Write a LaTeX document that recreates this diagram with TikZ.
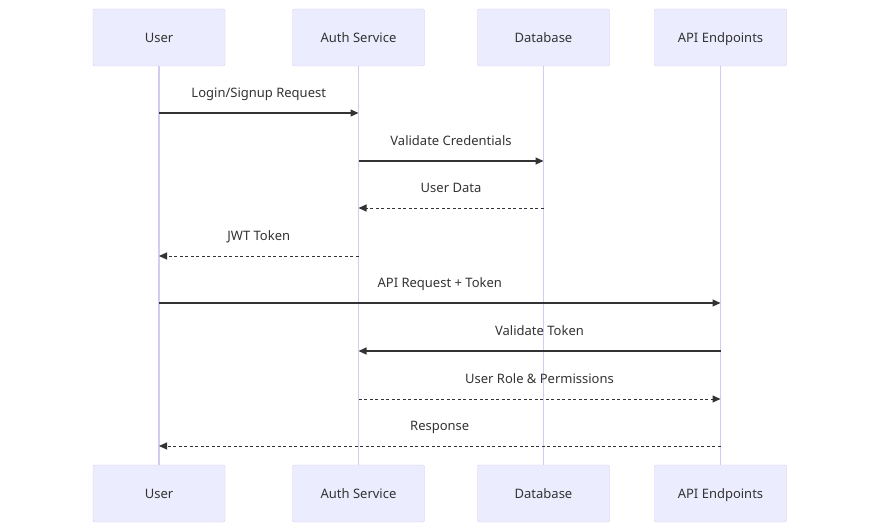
\documentclass[tikz,border=0pt]{standalone}
\usepackage{fontspec}
\setmainfont{Noto Sans}
\usetikzlibrary{arrows.meta,positioning,calc}
\definecolor{actfill}{HTML}{ECECFF}
\definecolor{actline}{HTML}{D3CBF3}
\definecolor{txt}{HTML}{333333}

\begin{document}
\begin{tikzpicture}[x=1pt,y=-1pt,
  actor/.style={draw=actline, fill=actfill, rounded corners=2pt, minimum width=132pt, minimum height=57pt, inner sep=0pt, text=txt, text height=10pt, text depth=0.5pt, font=\fontsize{13}{15}\selectfont},
  life/.style={draw=actline, line width=1.5pt},
  msg/.style={draw=txt, line width=1.1pt, -{Triangle[length=8pt,width=7pt]}},
  reply/.style={msg, line width=1pt, dash pattern=on 3pt off 2.5pt},
  lbl/.style={midway, yshift=20pt, text=txt, text height=10pt, text depth=0.5pt, font=\fontsize{13}{15}\selectfont}]
\useasboundingbox (0,0) rectangle (880,532);
% actors, top and bottom
\node[actor] (user)  at (159,37.5)   {User};
\node[actor] (auth)  at (358.5,37.5) {Auth Service};
\node[actor] (db)    at (543.5,37.5) {Database};
\node[actor] (api)   at (720.5,37.5) {API Endpoints};
\node[actor] (userb) at (159,493.5)   {User};
\node[actor] (authb) at (358.5,493.5) {Auth Service};
\node[actor] (dbb)   at (543.5,493.5) {Database};
\node[actor] (apib)  at (720.5,493.5) {API Endpoints};
% lifelines
\foreach \a in {user,auth,db,api}
  \draw[life] (\a.south) -- (\a b.north);
% message rows
\foreach \r/\y in {1/113,2/161,3/208,4/256,5/303,6/351,7/399,8/446}
  \coordinate (r\r) at (0,\y);
\draw[msg]   (user |- r1) -- node[lbl] {Login/Signup Request} (auth |- r1);
\draw[msg]   (auth |- r2) -- node[lbl] {Validate Credentials} (db |- r2);
\draw[reply] (db |- r3)   -- node[lbl] {User Data} (auth |- r3);
\draw[reply] (auth |- r4) -- node[lbl] {JWT Token} (user |- r4);
\draw[msg]   (user |- r5) -- node[lbl] {API Request + Token} (api |- r5);
\draw[msg]   (api |- r6)  -- node[lbl] {Validate Token} (auth |- r6);
\draw[reply] (auth |- r7) -- node[lbl] {User Role \& Permissions} (api |- r7);
\draw[reply] (api |- r8)  -- node[lbl] {Response} (user |- r8);
\end{tikzpicture}
\end{document}
